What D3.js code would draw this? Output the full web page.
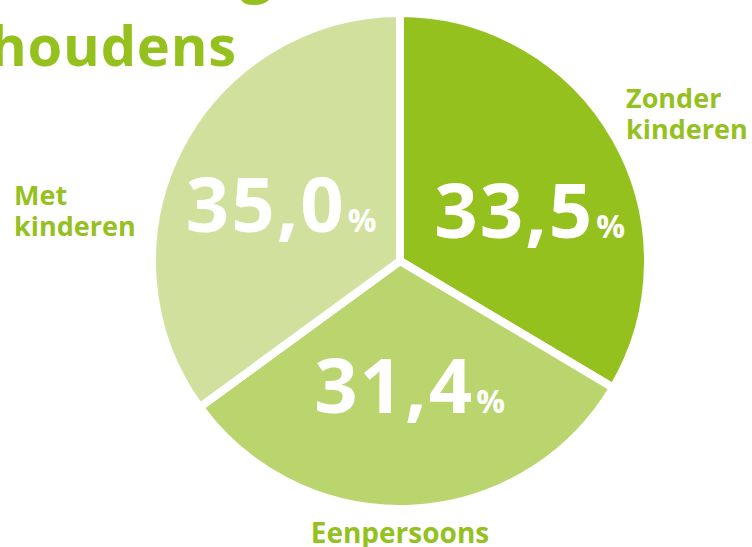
<!DOCTYPE html>
<html><head><meta charset="utf-8">
<script src="https://cdn.jsdelivr.net/npm/d3@7"></script>
<style>html,body{margin:0;padding:0;background:#fff;overflow:hidden}svg{display:block}</style>
</head><body>
<svg id="c" width="752" height="547"></svg>
<script>
const categories = ["Zonder kinderen", "Eenpersoons", "Met kinderen"];
const values = [33.5, 31.4, 35.0];
const valueLabels = ["33,5", "31,4", "35,0"];
const colors = ["#95c11f", "#bad46e", "#d1e09d"];
const titleLines = ["Samenstelling", "huishoudens"];

const svg = d3.select("#c");
const green = "#95c11f";
const font = "'Open Sans', sans-serif";
const cx = 400, cy = 261, R = 248;

// title (cropped at top)
svg.append("text").attr("x", 272).attr("y", -8).attr("text-anchor", "end")
  .attr("font-family", font).attr("font-weight", 700).attr("font-size", 56)
  .attr("fill", green).text(titleLines[0]);
svg.append("text").attr("x", 237).attr("y", 66).attr("text-anchor", "end")
  .attr("font-family", font).attr("font-weight", 700).attr("font-size", 56)
  .attr("letter-spacing", 0.8)
  .attr("fill", green).text(titleLines[1]);

const pie = d3.pie().sort(null).value(d => d)(values);
const arc = d3.arc().innerRadius(0).outerRadius(R);
const g = svg.append("g").attr("transform", `translate(${cx},${cy})`);
g.selectAll("path").data(pie).join("path")
  .attr("d", arc).attr("fill", (d, i) => colors[i])
  .attr("stroke", "#fff").attr("stroke-width", 8).attr("stroke-linejoin", "miter");

const labelArc = d3.arc().innerRadius(140).outerRadius(140);
const nudge = [[8, 40], [3, 6], [6, 29]];
const t = g.selectAll("text.v").data(pie).join("text").attr("class", "v")
  .attr("transform", (d, i) => {
    const c = labelArc.centroid(d);
    return `translate(${c[0] + nudge[i][0]},${c[1] + nudge[i][1]})`;
  })
  .attr("text-anchor", "middle").attr("dy", "0.36em")
  .attr("font-family", font).attr("font-weight", 700).attr("fill", "#fff");
t.append("tspan").attr("font-size", 76).attr("letter-spacing", 2).text((d, i) => valueLabels[i]);
t.append("tspan").attr("font-size", 32).attr("dx", 2).text("%");

// category labels
function label(x, y, lines, anchor, size) {
  const tx = svg.append("text").attr("x", x).attr("y", y).attr("text-anchor", anchor)
    .attr("font-family", font).attr("font-weight", 700).attr("font-size", size).attr("fill", green);
  lines.forEach((l, i) => tx.append("tspan").attr("x", x).attr("dy", i ? 31 : 0).text(l));
}
label(626, 108, ["Zonder", "kinderen"], "start", 27);
label(14, 205, ["Met", "kinderen"], "start", 27);
label(400, 543, [categories[1]], "middle", 28);
</script>
</body></html>
